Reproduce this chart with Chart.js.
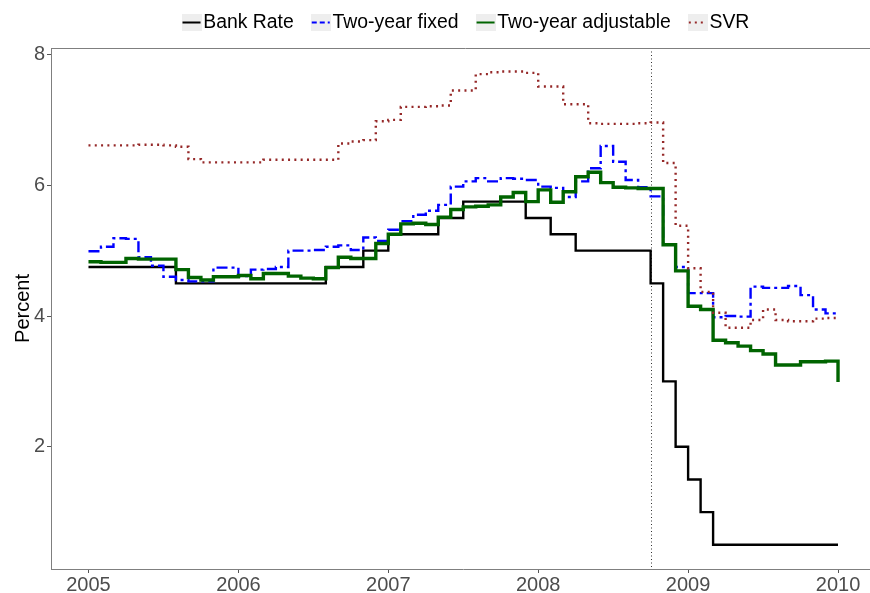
<!DOCTYPE html>
<html>
<head>
<meta charset="utf-8">
<script src="https://cdn.jsdelivr.net/npm/chart.js@4/dist/chart.umd.min.js"></script>
<style>
  html, body { margin: 0; padding: 0; background: #fff; overflow: hidden; width: 870px; height: 593px; }
  canvas { display: block; }
</style>
</head>
<body>
<canvas id="chart" width="880" height="593"></canvas>
<script>
// Monthly observations, January 2005 to January 2010 (61 months)
const firstYear = 2005;
const monthCount = 61;

const seriesNames = ['Bank Rate', 'Two-year fixed', 'Two-year adjustable', 'SVR'];

const bankRate = [
  4.75, 4.75, 4.75, 4.75, 4.75, 4.75, 4.75, 4.50, 4.50, 4.50, 4.50, 4.50,
  4.50, 4.50, 4.50, 4.50, 4.50, 4.50, 4.50, 4.75, 4.75, 4.75, 5.00, 5.00,
  5.25, 5.25, 5.25, 5.25, 5.50, 5.50, 5.75, 5.75, 5.75, 5.75, 5.75, 5.50,
  5.50, 5.25, 5.25, 5.00, 5.00, 5.00, 5.00, 5.00, 5.00, 4.50, 3.00, 2.00,
  1.50, 1.00, 0.50, 0.50, 0.50, 0.50, 0.50, 0.50, 0.50, 0.50, 0.50, 0.50,
  0.50
];

const twoYearFixed = [
  4.99, 5.06, 5.19, 5.18, 4.90, 4.77, 4.60, 4.55, 4.53, 4.53, 4.74, 4.74,
  4.61, 4.71, 4.72, 4.75, 5.00, 5.00, 5.01, 5.06, 5.08, 5.01, 5.20, 5.15,
  5.32, 5.45, 5.55, 5.61, 5.70, 5.98, 6.06, 6.11, 6.06, 6.11, 6.10, 6.08,
  5.98, 5.96, 5.82, 6.06, 6.26, 6.60, 6.36, 6.08, 5.97, 5.83, 5.09, 4.75,
  4.35, 4.35, 3.98, 4.00, 3.99, 4.45, 4.43, 4.43, 4.46, 4.32, 4.10, 4.04,
  4.02
];

const twoYearAdjustable = [
  4.83, 4.82, 4.82, 4.88, 4.87, 4.87, 4.87, 4.71, 4.59, 4.55, 4.60, 4.60,
  4.62, 4.57, 4.65, 4.65, 4.61, 4.58, 4.57, 4.74, 4.90, 4.88, 4.88, 5.11,
  5.25, 5.41, 5.42, 5.40, 5.51, 5.63, 5.67, 5.68, 5.70, 5.82, 5.89, 5.75,
  5.93, 5.74, 5.90, 6.13, 6.20, 6.04, 5.97, 5.96, 5.95, 5.95, 5.09, 4.69,
  4.15, 4.10, 3.63, 3.59, 3.54, 3.47, 3.42, 3.25, 3.25, 3.30, 3.30, 3.31,
  2.99
];

const svr = [
  6.61, 6.61, 6.61, 6.61, 6.62, 6.62, 6.61, 6.59, 6.40, 6.35, 6.35, 6.35,
  6.35, 6.35, 6.39, 6.39, 6.39, 6.39, 6.39, 6.39, 6.64, 6.67, 6.69, 6.98,
  7.00, 7.20, 7.20, 7.21, 7.22, 7.45, 7.45, 7.70, 7.73, 7.74, 7.74, 7.72,
  7.51, 7.51, 7.24, 7.24, 6.95, 6.94, 6.94, 6.94, 6.95, 6.96, 6.34, 5.38,
  4.73, 4.37, 4.05, 3.82, 3.82, 3.94, 4.10, 3.94, 3.92, 3.92, 3.96, 3.97,
  3.97
];

const yearTicks = [2005, 2006, 2007, 2008, 2009, 2010];
const percentTicks = [2, 4, 6, 8];
const eventDate = 2008.75; // dotted marker, autumn 2008

// x position of each monthly observation, in fractional years
const months = Array.from({ length: monthCount }, (_, i) => firstYear + i / 12);

const seriesValues = [bankRate, twoYearFixed, twoYearAdjustable, svr];
const seriesColors = ['#000000', '#0000ff', '#006400', '#952828'];
const seriesWidths = [2.4, 2.4, 3.4, 2.4];
const seriesDashes = [[], [11, 4, 3, 4], [], [2, 4.3]];

Chart.defaults.font.family = "'Liberation Sans', Arial, sans-serif";

// small legend keys: light grey box with a sample of the line
const KEY_W = 20, KEY_H = 17;
function makeKey(color, dash) {
  const c = document.createElement('canvas');
  c.width = KEY_W; c.height = KEY_H;
  const g = c.getContext('2d');
  g.fillStyle = '#eeeeee';
  g.fillRect(0, 0, KEY_W, KEY_H);
  g.strokeStyle = color;
  g.lineWidth = 2;
  g.setLineDash(dash);
  g.beginPath();
  g.moveTo(1, KEY_H / 2);
  g.lineTo(KEY_W - 1, KEY_H / 2);
  g.stroke();
  return c;
}
const keyDashes = [[], [5, 3], [], [2, 4]];
const keyImages = seriesNames.map((n, i) => makeKey(seriesColors[i], keyDashes[i]));

const LEGEND_FONT = 19.4;
const LEGEND_PAD = 25;
const LEGEND_START = 181.5;  // left edge of the first key
const LEGEND_MID_Y = 22.5;   // vertical centre of the legend row

const datasets = seriesNames.map((name, i) => ({
  label: name,
  data: months.map((m, k) => ({ x: m, y: seriesValues[i][k] })),
  borderColor: seriesColors[i],
  backgroundColor: seriesColors[i],
  borderWidth: seriesWidths[i],
  borderDash: seriesDashes[i],
  borderCapStyle: 'butt',
  borderJoinStyle: 'miter',
  stepped: 'before',
  pointRadius: 0,
  fill: false,
  order: seriesNames.length - 1 - i
}));

const framePlugin = {
  id: 'frame',
  beforeLayout(chart) {
    const legend = chart.legend;
    if (legend && !legend._fixedHeight) {
      const fit = legend.fit;
      legend.fit = function () { fit.call(this); this.height = 48; };
      legend._fixedHeight = true;
    }
  },
  afterLayout(chart) {
    const legend = chart.legend;
    if (!legend || !legend.lineWidths) return;
    const x0 = (legend.left + LEGEND_PAD + legend.right - legend.lineWidths[0]) / 2;
    const shift = (LEGEND_START + KEY_W / 2 - 2) - x0;
    legend.left += shift; legend.right += shift;
    const dy = LEGEND_MID_Y - (legend.top + LEGEND_PAD + LEGEND_FONT / 2);
    legend.top += dy; legend.bottom += dy;
  },
  beforeDatasetsDraw(chart) {
    const { ctx, chartArea, scales } = chart;
    const x = Math.round(scales.x.getPixelForValue(eventDate)) + 0.5;
    ctx.save();
    ctx.strokeStyle = '#333';
    ctx.lineWidth = 1;
    ctx.setLineDash([1, 2.5]);
    ctx.beginPath();
    ctx.moveTo(x, chartArea.top);
    ctx.lineTo(x, chartArea.bottom);
    ctx.stroke();
    ctx.restore();
  },
  afterDraw(chart) {
    const { ctx, chartArea } = chart;
    ctx.save();
    ctx.strokeStyle = '#7f7f7f';
    ctx.lineWidth = 1;
    ctx.beginPath();
    ctx.moveTo(chartArea.left, Math.round(chartArea.top) + 0.5);
    ctx.lineTo(chart.width, Math.round(chartArea.top) + 0.5);
    ctx.stroke();
    ctx.restore();
  }
};

new Chart(document.getElementById('chart'), {
  type: 'line',
  data: { datasets },
  options: {
    responsive: false,
    animation: false,
    events: [],
    layout: { padding: { left: 0, right: 4.5, top: 0, bottom: 0 } },
    plugins: {
      tooltip: { enabled: false },
      legend: {
        position: 'top',
        align: 'center',
        labels: {
          usePointStyle: true,
          boxWidth: 4,
          boxHeight: 20,
          padding: LEGEND_PAD,
          color: '#000',
          font: { size: LEGEND_FONT },
          generateLabels: (chart) => chart.data.datasets.map((ds, i) => ({
            text: ds.label,
            pointStyle: keyImages[i],
            datasetIndex: i,
            hidden: false,
            fontColor: '#000',
            lineWidth: 0,
            strokeStyle: 'rgba(0,0,0,0)',
            fillStyle: 'rgba(0,0,0,0)'
          }))
        }
      }
    },
    scales: {
      x: {
        type: 'linear',
        min: 2004.75,
        max: 2010.25,
        afterBuildTicks: (s) => { s.ticks = yearTicks.map(v => ({ value: v })); },
        afterFit: (s) => { s.height = 24; },
        ticks: {
          callback: (v) => String(v),
          color: '#4d4d4d',
          font: { size: 20 },
          padding: 0,
          maxRotation: 0,
          autoSkip: false
        },
        grid: { drawOnChartArea: false, drawTicks: true, tickLength: 4, color: '#555' },
        border: { color: '#7f7f7f', width: 1 }
      },
      y: {
        type: 'linear',
        min: 0.13,
        max: 8.1,
        afterBuildTicks: (s) => { s.ticks = percentTicks.map(v => ({ value: v })); },
        afterFit: (s) => { s.width = 51; },
        ticks: {
          callback: (v) => String(v),
          color: '#4d4d4d',
          font: { size: 20 },
          padding: 2
        },
        title: {
          display: true,
          text: 'Percent',
          color: '#000',
          font: { size: 20 },
          padding: { top: 11, bottom: 0 }
        },
        grid: { drawOnChartArea: false, drawTicks: true, tickLength: 4, color: '#555' },
        border: { color: '#7f7f7f', width: 1 }
      }
    }
  },
  plugins: [framePlugin]
});
</script>
</body>
</html>
